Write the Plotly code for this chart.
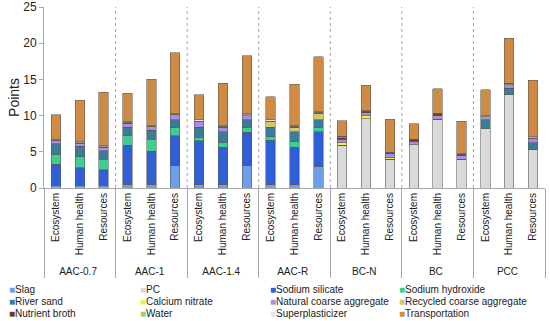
import plotly.graph_objects as go

groups = ["AAC-0.7", "AAC-1", "AAC-1.4", "AAC-R", "BC-N", "BC", "PCC"]
indicators = ["Ecosystem", "Human health", "Resources"]

components = ["Slag", "PC", "Sodium silicate", "Sodium hydroxide",
              "River sand", "Calcium nitrate", "Natural coarse aggregate",
              "Recycled coarse aggregate", "Nutrient broth", "Water",
              "Superplasticizer", "Transportation"]

# values per bar: AAC-0.7 (E,H,R), AAC-1, AAC-1.4, AAC-R, BC-N, BC, PCC
slag = [0.4, 0.4, 0.3, 0.5, 0.5, 3.1, 0.5, 0.5, 3.1, 0.5, 0.5, 3.0,
        0, 0, 0, 0, 0, 0, 0, 0, 0]
pc = [0, 0, 0, 0, 0, 0, 0, 0, 0, 0, 0, 0,
      5.9, 9.6, 3.95, 6.0, 9.5, 3.95, 8.2, 12.85, 5.35]
sodium_silicate = [2.9, 2.4, 2.2, 5.4, 4.6, 4.1, 6.05, 5.1, 4.6, 6.1, 5.1, 4.75,
                   0, 0, 0, 0, 0, 0, 0, 0, 0]
sodium_hydroxide = [1.35, 1.5, 1.45, 1.3, 1.6, 1.1, 0.45, 0.65, 0.6, 0.5, 0.8, 0.6,
                    0, 0, 0, 0, 0, 0, 0, 0, 0]
river_sand = [1.45, 1.5, 1.2, 1.2, 1.3, 1.1, 1.4, 1.55, 1.1, 1.3, 1.4, 1.1,
              0, 0, 0, 0, 0, 0, 1.2, 0.9, 0.9]
calcium_nitrate = [0, 0, 0, 0, 0, 0, 0, 0, 0, 0, 0, 0,
                   0.45, 0.4, 0.3, 0, 0, 0, 0, 0, 0]
natural_coarse = [0.4, 0.35, 0.45, 0.55, 0.45, 0.7, 0.75, 0.6, 0.6, 0, 0, 0,
                  0.4, 0.4, 0.45, 0.45, 0.45, 0.5, 0.45, 0.5, 0.6]
recycled_coarse = [0, 0, 0, 0, 0, 0, 0, 0, 0, 0.75, 0.6, 0.9,
                   0, 0, 0, 0, 0, 0, 0, 0, 0]
nutrient_broth = [0, 0, 0, 0, 0, 0, 0, 0, 0, 0, 0, 0,
                  0.2, 0.2, 0.15, 0.2, 0.3, 0.2, 0, 0, 0]
water = [0.1, 0.1, 0.1, 0.1, 0.1, 0.1, 0.1, 0.1, 0.1, 0.1, 0.1, 0.1,
         0.2, 0.1, 0.1, 0.1, 0.1, 0.1, 0.1, 0.25, 0.2]
superplasticizer = [0.15, 0.15, 0.15, 0.15, 0.15, 0.15, 0.15, 0.15, 0.15, 0.15, 0.15, 0.15,
                    0, 0, 0, 0, 0, 0, 0, 0, 0]
transportation = [3.35, 5.7, 7.35, 3.9, 6.3, 8.35, 3.5, 5.85, 8.05, 3.2, 5.65, 7.5,
                  2.15, 3.5, 4.55, 2.15, 3.35, 4.45, 3.65, 6.2, 7.85]

series = [slag, pc, sodium_silicate, sodium_hydroxide, river_sand, calcium_nitrate,
          natural_coarse, recycled_coarse, nutrient_broth, water,
          superplasticizer, transportation]

colors = ["#6f9fe8", "#d9d9d9", "#2f5fd6", "#3ecf8e", "#3b7c96", "#f0ee55",
          "#a98be8", "#d8c46a", "#6b3b1b", "#9fce7a", "#e8e2f2", "#cf8a44"]

x_outer = [g for g in groups for _ in indicators]
x_inner = [i for _ in groups for i in indicators]

W, H = 550, 321
ML, MR, MT, MB = 44, 5, 7, 133
plot_w = W - ML - MR
plot_h = H - MT - MB

fig = go.Figure()
for name, vals, col in zip(components, series, colors):
    fig.add_trace(go.Bar(
        x=[x_outer, x_inner], y=vals, name=name, showlegend=False,
        marker=dict(color=col, line=dict(color="rgba(90,90,90,0.7)", width=0.8)),
    ))

# dotted separators between groups
n_ind = len(indicators)
for k in range(1, len(groups)):
    xb = k * n_ind - 0.5
    fig.add_shape(type="line", xref="x", yref="paper", x0=xb, x1=xb, y0=0, y1=1,
                  line=dict(color="#a6a6a6", width=1, dash="dot"))

# compact 4-column legend below the chart
col_px = [7, 138, 268, 397]
row_px = [289, 301, 313]
for i, (name, col) in enumerate(zip(components, colors)):
    c, r = i % 4, i // 4
    fig.add_annotation(
        xref="paper", yref="paper",
        x=(col_px[c] - ML) / plot_w, y=(H - MB - row_px[r]) / plot_h,
        xanchor="left", yanchor="middle", showarrow=False,
        text=f"<span style='color:{col}'>■</span>{name}",
        font=dict(size=10, color="#222"),
    )

fig.update_layout(
    width=W, height=H,
    barmode="stack", bargap=0.6,
    plot_bgcolor="white", paper_bgcolor="white",
    margin=dict(l=ML, r=MR, t=MT, b=MB, autoexpand=False),
    font=dict(family="Liberation Sans, Arial, sans-serif", size=10, color="#222"),
    showlegend=False,
)
fig.update_yaxes(range=[0, 25], dtick=5, showgrid=False, showline=True,
                 linecolor="#a6a6a6", ticks="outside", ticklen=4, tickcolor="#a6a6a6",
                 title=dict(text="Points", font=dict(size=14), standoff=0),
                 tickfont=dict(size=12), zeroline=False)
fig.update_xaxes(showline=True, linecolor="#a6a6a6", tickangle=-90,
                 showdividers=True, dividercolor="#a6a6a6", dividerwidth=1,
                 tickfont=dict(size=10), showgrid=False)

fig.write_html("out.html", post_script="document.body.style.margin='0';",
               config={"displayModeBar": False})
